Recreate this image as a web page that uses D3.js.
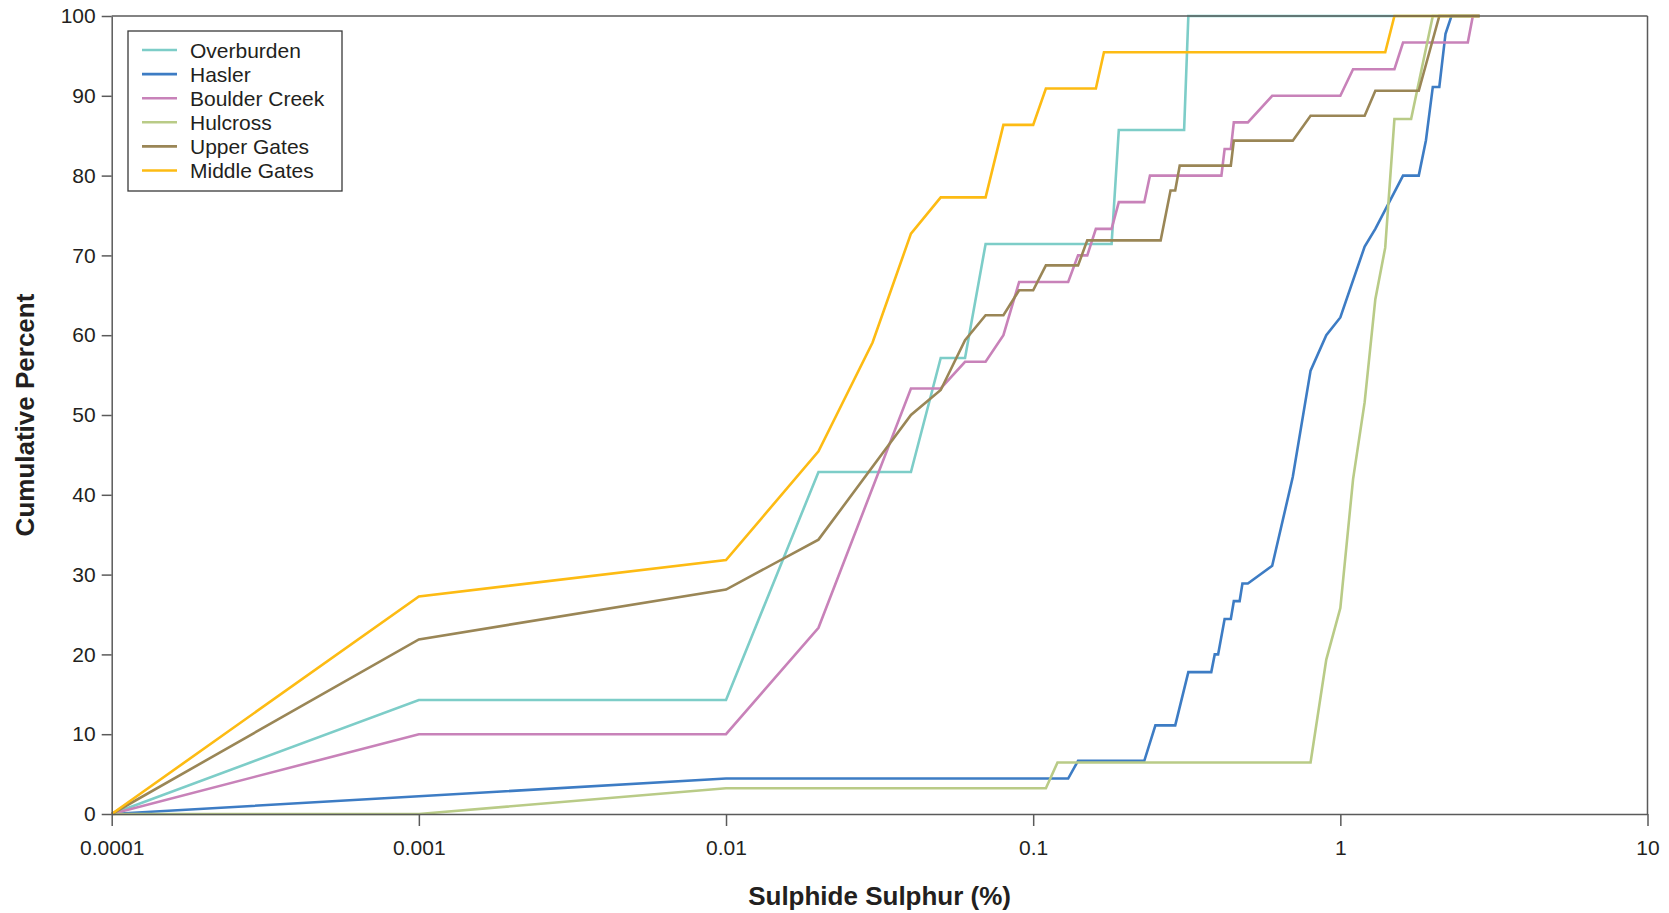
<!DOCTYPE html>
<html>
<head>
<meta charset="utf-8">
<script src="https://cdn.jsdelivr.net/npm/d3@7"></script>
<style>
  html, body { margin: 0; padding: 0; background: #fff; }
  svg { display: block; }
  text { font-family: "Liberation Sans", Arial, Helvetica, sans-serif; fill: #231f20; }
</style>
</head>
<body>
<svg id="chart" width="1669" height="913"></svg>
<script>
// Cumulative distribution of sulphide sulphur (%) by unit
const seriesNames = ["Overburden", "Hasler", "Boulder Creek", "Hulcross", "Upper Gates", "Middle Gates"];
const seriesColors = ["#7dcdc8", "#3d7cc4", "#c882b9", "#b9cb87", "#9a8656", "#fdbb13"];

const overburdenX = [0.0001, 0.001, 0.01, 0.02, 0.04, 0.05, 0.06, 0.07, 0.18, 0.19, 0.31, 0.32, 2.84];
const overburdenY = [0, 14.29, 14.29, 42.86, 42.86, 57.14, 57.14, 71.43, 71.43, 85.71, 85.71, 100, 100];

const haslerX = [0.0001, 0.001, 0.01, 0.13, 0.14, 0.23, 0.25, 0.29, 0.32, 0.38, 0.39, 0.40, 0.42, 0.44, 0.45, 0.47, 0.48, 0.5, 0.6, 0.7, 0.8, 0.9, 1.0, 1.2, 1.3, 1.6, 1.8, 1.9, 2.0, 2.1, 2.2, 2.3, 2.84];
const haslerY = [0, 2.22, 4.44, 4.44, 6.67, 6.67, 11.11, 11.11, 17.78, 17.78, 20, 20, 24.44, 24.44, 26.67, 26.67, 28.89, 28.89, 31.11, 42.22, 55.56, 60, 62.22, 71.11, 73.33, 80, 80, 84.44, 91.11, 91.11, 97.78, 100, 100];

const boulderCreekX = [0.0001, 0.001, 0.01, 0.02, 0.04, 0.05, 0.06, 0.07, 0.08, 0.09, 0.13, 0.14, 0.15, 0.16, 0.18, 0.19, 0.23, 0.24, 0.41, 0.42, 0.44, 0.45, 0.5, 0.6, 1.0, 1.1, 1.5, 1.6, 2.6, 2.7, 2.84];
const boulderCreekY = [0, 10, 10, 23.33, 53.33, 53.33, 56.67, 56.67, 60, 66.67, 66.67, 70, 70, 73.33, 73.33, 76.67, 76.67, 80, 80, 83.33, 83.33, 86.67, 86.67, 90, 90, 93.33, 93.33, 96.67, 96.67, 100, 100];

const hulcrossX = [0.0001, 0.001, 0.01, 0.11, 0.12, 0.8, 0.9, 1.0, 1.1, 1.2, 1.3, 1.4, 1.5, 1.7, 2.0, 2.84];
const hulcrossY = [0, 0, 3.23, 3.23, 6.45, 6.45, 19.35, 25.81, 41.94, 51.61, 64.52, 70.97, 87.1, 87.1, 100, 100];

const upperGatesX = [0.0001, 0.001, 0.01, 0.02, 0.04, 0.05, 0.06, 0.07, 0.08, 0.09, 0.1, 0.11, 0.14, 0.15, 0.26, 0.28, 0.29, 0.3, 0.44, 0.45, 0.7, 0.8, 1.2, 1.3, 1.8, 2.1, 2.84];
const upperGatesY = [0, 21.88, 28.13, 34.38, 50, 53.13, 59.38, 62.5, 62.5, 65.63, 65.63, 68.75, 68.75, 71.88, 71.88, 78.13, 78.13, 81.25, 81.25, 84.38, 84.38, 87.5, 87.5, 90.63, 90.63, 100, 100];

const middleGatesX = [0.0001, 0.001, 0.01, 0.02, 0.03, 0.04, 0.05, 0.07, 0.08, 0.1, 0.11, 0.16, 0.17, 1.4, 1.5, 2.84];
const middleGatesY = [0, 27.27, 31.82, 45.45, 59.09, 72.73, 77.27, 77.27, 86.36, 86.36, 90.91, 90.91, 95.45, 95.45, 100, 100];

const xTickValues = [0.0001, 0.001, 0.01, 0.1, 1, 10];
const xTickLabels = ["0.0001", "0.001", "0.01", "0.1", "1", "10"];
const yTickValues = [0, 10, 20, 30, 40, 50, 60, 70, 80, 90, 100];

const xTitle = "Sulphide Sulphur (%)";
const yTitle = "Cumulative Percent";

const seriesX = [overburdenX, haslerX, boulderCreekX, hulcrossX, upperGatesX, middleGatesX];
const seriesY = [overburdenY, haslerY, boulderCreekY, hulcrossY, upperGatesY, middleGatesY];

const series = seriesNames.map((name, i) => ({
  name,
  color: seriesColors[i],
  points: seriesX[i].map((v, j) => ({ x: v, y: seriesY[i][j] }))
}));

// Plot geometry
const plotLeft = 111.7, plotRight = 1647.5, plotTop = 16, plotBottom = 814;
const svg = d3.select("#chart");

const x = d3.scaleLog().domain([0.0001, 10]).range([plotLeft, plotRight]);
const y = d3.scaleLinear().domain([0, 100]).range([plotBottom, plotTop]);

const axisColor = "#5a5a5a";

// Lines
const line = d3.line().x(d => x(d.x)).y(d => y(d.y));
svg.append("g")
  .selectAll("path")
  .data(series)
  .join("path")
  .attr("d", d => line(d.points))
  .attr("fill", "none")
  .attr("stroke", d => d.color)
  .attr("stroke-width", 2.6)
  .attr("stroke-linejoin", "miter");

// Frame (top and right)
svg.append("line")
  .attr("x1", plotLeft).attr("x2", plotRight).attr("y1", plotTop).attr("y2", plotTop)
  .attr("stroke", axisColor).attr("stroke-width", 1.5);
svg.append("line")
  .attr("x1", plotRight).attr("x2", plotRight).attr("y1", plotTop).attr("y2", plotBottom)
  .attr("stroke", axisColor).attr("stroke-width", 1.5);

// X axis
const xAxis = d3.axisBottom(x)
  .tickValues(xTickValues)
  .tickFormat((d, i) => xTickLabels[i])
  .tickSizeInner(12)
  .tickSizeOuter(0)
  .tickPadding(14);
const gx = svg.append("g").attr("transform", `translate(0,${plotBottom})`).call(xAxis);
gx.select(".domain").attr("stroke", axisColor).attr("stroke-width", 1.5);
gx.selectAll(".tick line").attr("stroke", axisColor).attr("stroke-width", 1.5);
gx.selectAll(".tick text")
  .attr("font-size", 21)
  .attr("font-family", "Liberation Sans, Arial, sans-serif")
  .attr("fill", "#231f20");

// Y axis
const yAxis = d3.axisLeft(y)
  .tickValues(yTickValues)
  .tickSizeInner(10)
  .tickSizeOuter(0)
  .tickPadding(6);
const gy = svg.append("g").attr("transform", `translate(${plotLeft},0)`).call(yAxis);
gy.select(".domain").attr("stroke", axisColor).attr("stroke-width", 1.5);
gy.selectAll(".tick line").attr("stroke", axisColor).attr("stroke-width", 1.5);
gy.selectAll(".tick text")
  .attr("font-size", 21)
  .attr("font-family", "Liberation Sans, Arial, sans-serif")
  .attr("fill", "#231f20");

// Axis titles
svg.append("text")
  .attr("x", (plotLeft + plotRight) / 2)
  .attr("y", 905)
  .attr("text-anchor", "middle")
  .attr("font-size", 26)
  .attr("font-weight", "bold")
  .text(xTitle);

svg.append("text")
  .attr("transform", `translate(34,${(plotTop + plotBottom) / 2}) rotate(-90)`)
  .attr("text-anchor", "middle")
  .attr("font-size", 26)
  .attr("font-weight", "bold")
  .text(yTitle);

// Legend
const legend = svg.append("g").attr("transform", "translate(128,31)");
legend.append("rect")
  .attr("width", 214).attr("height", 160)
  .attr("fill", "#fff")
  .attr("stroke", "#3a3a3a").attr("stroke-width", 1.3);
const rows = legend.selectAll("g.row")
  .data(series)
  .join("g")
  .attr("class", "row")
  .attr("transform", (d, i) => `translate(0,${19 + i * 24.1})`);
rows.append("line")
  .attr("x1", 14).attr("x2", 49)
  .attr("stroke", d => d.color)
  .attr("stroke-width", 2.6);
rows.append("text")
  .attr("x", 62)
  .attr("dy", "0.36em")
  .attr("font-size", 21)
  .text(d => d.name);
</script>
</body>
</html>
